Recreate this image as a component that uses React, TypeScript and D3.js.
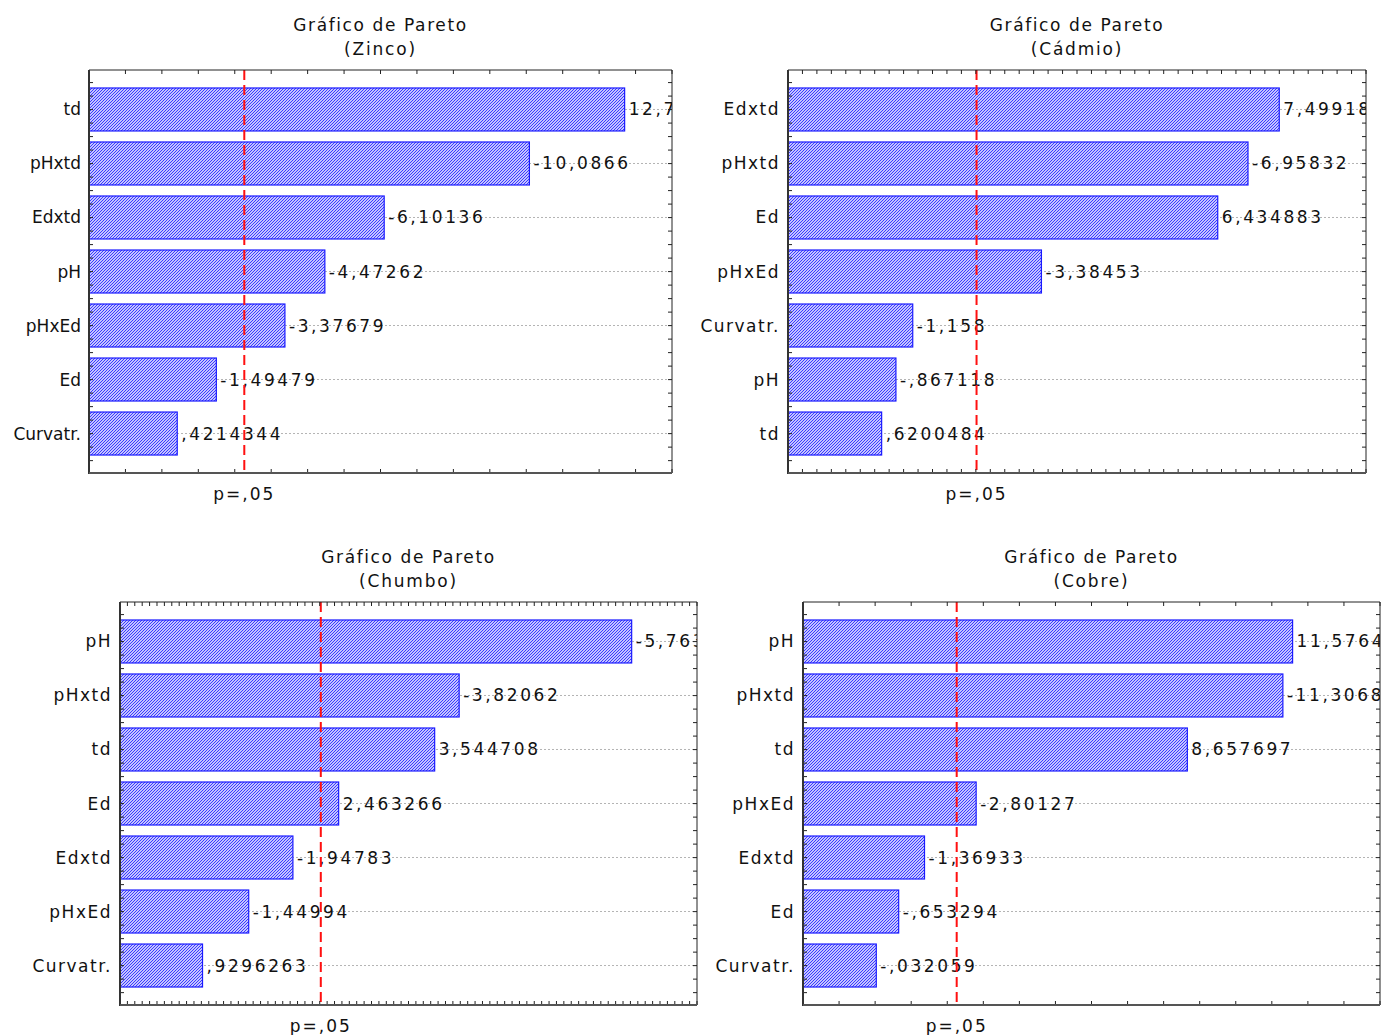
import React from 'react';
import * as d3 from 'd3';

// effect names, sorted as in each Pareto chart (top to bottom)
const zincoNames = ["td", "pHxtd", "Edxtd", "pH", "pHxEd", "Ed", "Curvatr."];
const zincoValues = [12.7, -10.0866, -6.10136, -4.47262, -3.37679, -1.49479, 0.4214344];

const cadmioNames = ["Edxtd", "pHxtd", "Ed", "pHxEd", "Curvatr.", "pH", "td"];
const cadmioValues = [7.49918, -6.95832, 6.434883, -3.38453, -1.158, -0.867118, 0.6200484];

const chumboNames = ["pH", "pHxtd", "td", "Ed", "Edxtd", "pHxEd", "Curvatr."];
const chumboValues = [-5.76393, -3.82062, 3.544708, 2.463266, -1.94783, -1.44994, 0.9296263];

const cobreNames = ["pH", "pHxtd", "td", "pHxEd", "Edxtd", "Ed", "Curvatr."];
const cobreValues = [11.5764, -11.3068, 8.657697, -2.80127, -1.36933, -0.653294, -0.032059];

const pCritical = 2.262;
const pLabel = "p=,05";
const titleLine = "Gráfico de Pareto";

const charts = [
  { id: "zn", sub: "(Zinco)", names: zincoNames, values: zincoValues,
    x: 89, y: 70, w: 583, h: 403, domain: [-2, 14], tickStep: 1, catSpacing: 0 },
  { id: "cd", sub: "(Cádmio)", names: cadmioNames, values: cadmioValues,
    x: 788, y: 70, w: 578, h: 403, domain: [-1, 9], tickStep: 0.25, catSpacing: 1.5 },
  { id: "pb", sub: "(Chumbo)", names: chumboNames, values: chumboValues,
    x: 120, y: 602, w: 577, h: 403, domain: [0, 6.5], tickStep: 1 / 12, catSpacing: 1.5 },
  { id: "cu", sub: "(Cobre)", names: cobreNames, values: cobreValues,
    x: 803, y: 602, w: 577, h: 403, domain: [-2, 14], tickStep: 1, catSpacing: 1.5 },
];

// statistica style number: comma decimal, no leading zero
const fmt = (v: number) => {
  let s = String(Math.abs(v)).replace(".", ",");
  if (s.startsWith("0,")) s = s.slice(1);
  return (v < 0 ? "-" : "") + s;
};

const FONT = "DejaVu Sans, Verdana, sans-serif";

const Pareto = ({ c }: any) => {
  const x = d3.scaleLinear().domain(c.domain).range([c.x, c.x + c.w]);
  const y = d3.scaleBand().domain(c.names).range([c.y, c.y + c.h]).paddingInner(0.204).paddingOuter(0.333);
  const step = y.step();
  const bw = y.bandwidth();
  const nT = Math.round((c.domain[1] - c.domain[0]) / c.tickStep);
  const xTicks = d3.range(nT + 1).map(i => c.domain[0] + i * c.tickStep);
  const y0 = c.y + y.paddingOuter() * step - step * 0.1;
  const yTicks = d3.range(0, 40).map(i => y0 + i * step / 4).filter(v => v > c.y + 2 && v < c.y + c.h - 2);
  const px = x(pCritical);
  const cx = c.x + c.w / 2;

  return (
    <g>
      <defs>
        <clipPath id={"clip-" + c.id}>
          <rect x={c.x} y={c.y} width={c.w} height={c.h} />
        </clipPath>
      </defs>
      <text x={cx} y={c.y - 39} textAnchor="middle" fontSize={17} letterSpacing={1.6} fontFamily={FONT} fill="#111">{titleLine}</text>
      <text x={cx} y={c.y - 15} textAnchor="middle" fontSize={17} letterSpacing={1.8} fontFamily={FONT} fill="#111">{c.sub}</text>

      {/* value labels are clipped at the frame, as in the original */}
      <g clipPath={`url(#clip-${c.id})`}>
        {c.names.map((n: string) => (
          <line key={"g" + n} x1={c.x} x2={c.x + c.w} y1={y(n)! + bw / 2} y2={y(n)! + bw / 2}
            stroke="#b4b4b4" strokeWidth={1} strokeDasharray="2,2" />
        ))}
        {c.names.map((n: string, i: number) => (
          <rect key={"b" + n} x={c.x} y={y(n)} width={x(Math.abs(c.values[i])) - c.x} height={bw}
            fill="url(#hatch)" stroke="#1a1aff" strokeWidth={1.2} />
        ))}
        {c.names.map((n: string, i: number) => (
          <text key={"v" + n} x={x(Math.abs(c.values[i])) + 4} y={y(n)! + bw / 2 + 6}
            fontSize={17} letterSpacing={2.6} fontFamily={FONT} fill="#111">{fmt(c.values[i])}</text>
        ))}
      </g>

      <line x1={px} x2={px} y1={c.y} y2={c.y + c.h} stroke="#ff1010" strokeWidth={2} strokeDasharray="10,5" />

      {xTicks.map((t: number, i: number) => (
        <g key={"t" + i}>
          <line x1={x(t)} x2={x(t)} y1={c.y} y2={c.y + 4} stroke="#222" />
          <line x1={x(t)} x2={x(t)} y1={c.y + c.h} y2={c.y + c.h - 4} stroke="#222" />
        </g>
      ))}
      {yTicks.map((t: number, i: number) => (
        <g key={"yt" + i}>
          <line x1={c.x} x2={c.x + 4} y1={t} y2={t} stroke="#222" />
          <line x1={c.x + c.w} x2={c.x + c.w - 4} y1={t} y2={t} stroke="#222" />
        </g>
      ))}

      <line x1={c.x} x2={c.x + c.w} y1={c.y} y2={c.y} stroke="#222" strokeWidth={1} />
      <line x1={c.x + c.w} x2={c.x + c.w} y1={c.y} y2={c.y + c.h} stroke="#222" strokeWidth={1} />
      <line x1={c.x} x2={c.x} y1={c.y} y2={c.y + c.h + 1} stroke="#333" strokeWidth={2} />
      <line x1={c.x} x2={c.x + c.w} y1={c.y + c.h} y2={c.y + c.h} stroke="#555" strokeWidth={2} />

      {c.names.map((n: string) => (
        <text key={"c" + n} x={c.x - 8} y={y(n)! + bw / 2 + 6} textAnchor="end"
          fontSize={17} letterSpacing={c.catSpacing} fontFamily={FONT} fill="#111">{n}</text>
      ))}
      <text x={px} y={c.y + c.h + 27} textAnchor="middle" fontSize={17} letterSpacing={2} fontFamily={FONT} fill="#111">{pLabel}</text>
    </g>
  );
};

export default function App() {
  return (
    <svg width={1383} height={1035} style={{ position: "absolute", left: 0, top: 0, display: "block", background: "#fff" }}>
      <defs>
        <pattern id="hatch" patternUnits="userSpaceOnUse" width={3} height={3}>
          <rect width={3} height={3} fill="#fff" />
          <path d="M-1,1 l2,-2 M0,3 l3,-3 M2,4 l2,-2" stroke="#3030ff" strokeWidth={1.1} />
        </pattern>
      </defs>
      <rect width={1383} height={1035} fill="#fff" />
      {charts.map(c => <Pareto key={c.id} c={c} />)}
    </svg>
  );
}
